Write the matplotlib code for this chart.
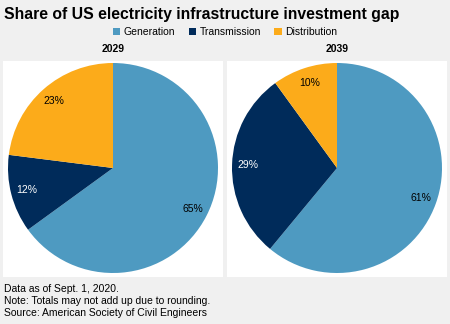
import matplotlib
matplotlib.use("Agg")
import matplotlib.pyplot as plt
from matplotlib.patches import Rectangle, Patch

categories = ["Generation", "Transmission", "Distribution"]
years = ["2029", "2039"]
values_2029 = [65, 12, 23]
values_2039 = [61, 29, 10]
colors = ["#4E9AC1", "#002B5A", "#FCAB1A"]
label_colors = ["black", "white", "black"]
notes = ["Data as of Sept. 1, 2020.",
         "Note: Totals may not add up due to rounding.",
         "Source: American Society of Civil Engineers"]

plt.rcParams['font.family'] = ['Liberation Sans', 'DejaVu Sans']
W, H = 450, 324
fig = plt.figure(figsize=(W/100, H/100), dpi=100, facecolor="#F0F0F0")

def fx(x): return x / W
def fy(y): return 1 - y / H

fig.text(fx(4), fy(14), "Share of US electricity infrastructure investment gap",
         fontsize=11.3, fontweight="bold", ha="left", va="center")

handles = [Patch(facecolor=c, edgecolor="none") for c in colors]
fig.legend(handles, categories, loc="center", bbox_to_anchor=(0.5, fy(32)), ncol=3,
           frameon=False, fontsize=7.5, handlelength=0.75, handleheight=0.75,
           handletextpad=0.3, columnspacing=1.3)

panels = [(3, 223, 113), (227, 447, 337)]
for (x0, x1, cx), year, vals in zip(panels, years, [values_2029, values_2039]):
    fig.patches.append(Rectangle((fx(x0), fy(277)), (x1 - x0) / W, 216 / H,
                                 transform=fig.transFigure, facecolor="white",
                                 edgecolor="none", zorder=-10))
    fig.text(fx(cx), fy(49), year, fontsize=7.5, fontweight="bold", ha="center", va="center")
    r = 105
    ax = fig.add_axes([fx(cx - r), fy(168 + r), 2 * r / W, 2 * r / H])
    ax.set_zorder(1)
    wedges, texts, autotexts = ax.pie(vals, colors=colors, startangle=90, counterclock=False,
                                      autopct="%d%%", pctdistance=0.85,
                                      wedgeprops=dict(linewidth=0))
    for t, c in zip(autotexts, label_colors):
        t.set_color(c)
        t.set_fontsize(7.5)
    ax.set_xlim(-1, 1)
    ax.set_ylim(-1, 1)
    ax.set_aspect("auto")
    ax.axis("off")

for i, line in enumerate(notes):
    fig.text(fx(4), fy(289 + 12 * i), line, fontsize=7.5, ha="left", va="center")

fig.savefig("out.png", dpi=100, facecolor=fig.get_facecolor())
